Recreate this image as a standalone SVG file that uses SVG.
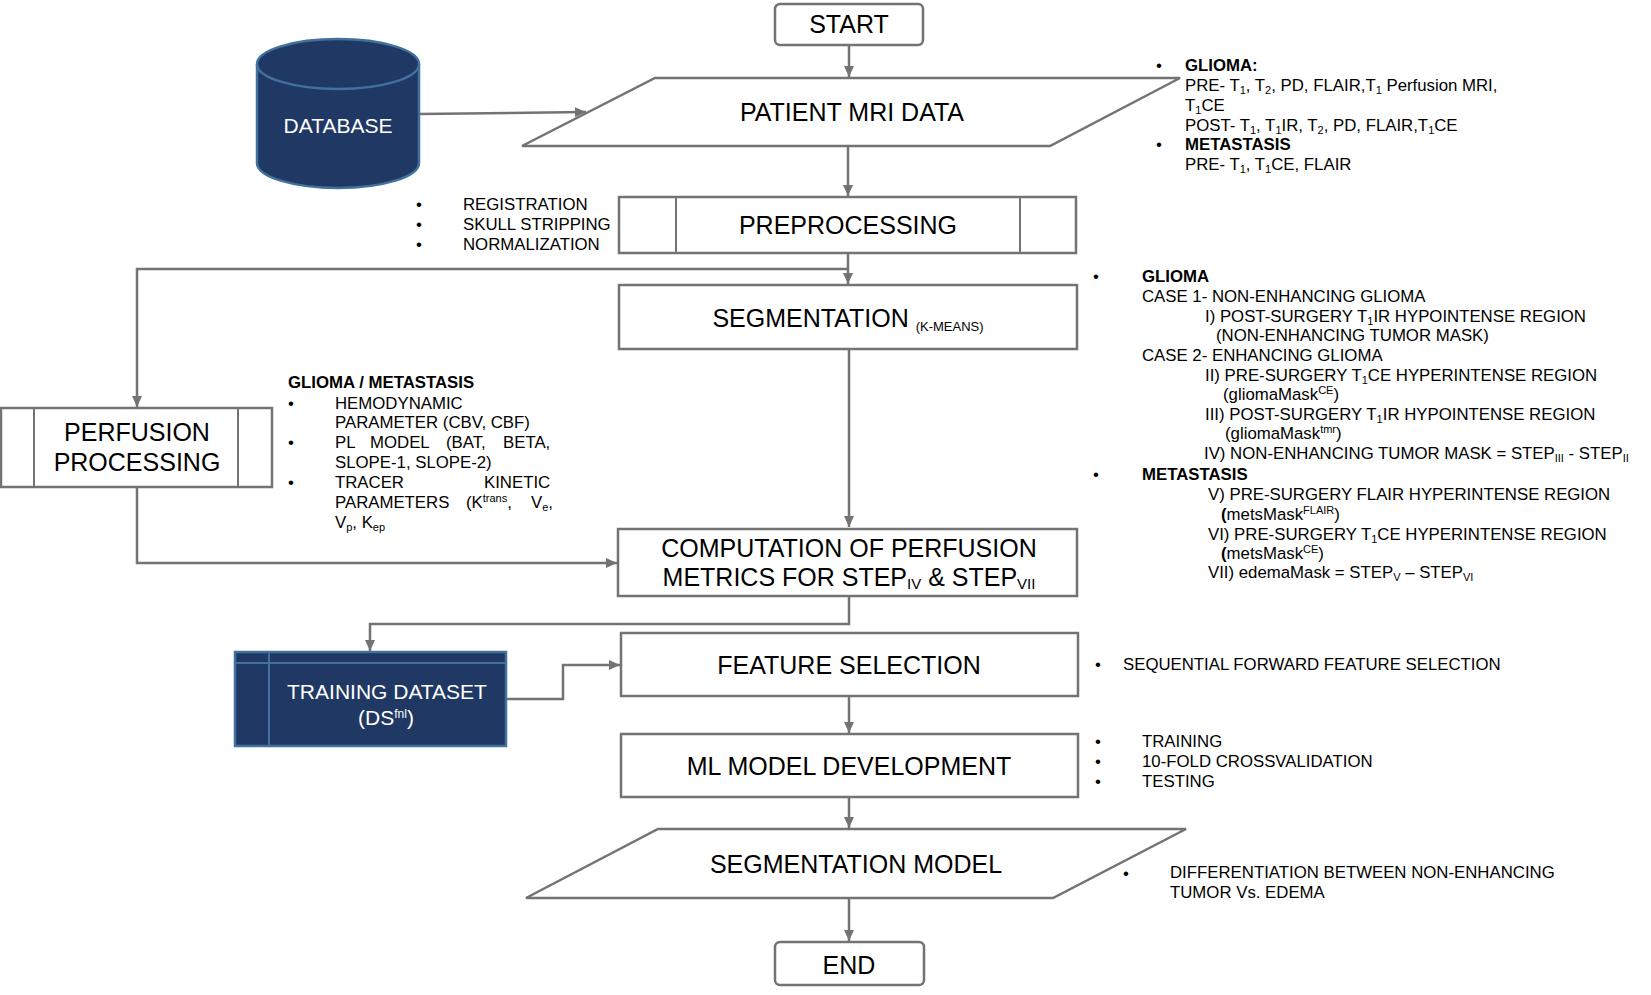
<svg xmlns="http://www.w3.org/2000/svg" width="1651" height="995" viewBox="0 0 1651 995">
<style>
.box{fill:#fff;stroke:#737373;stroke-width:2.5}
.dark{fill:#203864;stroke:#41719C;stroke-width:2.5}
.inner{fill:none;stroke:#737373;stroke-width:2}
.innerd{fill:none;stroke:#41719C;stroke-width:2}
.conn{fill:none;stroke:#737373;stroke-width:2.5}
text{font-family:"Liberation Sans",Arial,sans-serif;fill:#000}
.t{font-size:25px;text-anchor:middle}
.tw{font-size:21px;text-anchor:middle;fill:#fff}
.s{font-size:16.8px}
.b{font-weight:bold}
.sub{font-size:11px}
</style>
<defs>
<marker id="ah" markerUnits="userSpaceOnUse" markerWidth="11" markerHeight="10" refX="11" refY="5" orient="auto">
<path d="M0,0 L11,5 L0,10 z" fill="#737373"/>
</marker>
</defs>

<g id="connectors">
<line class="conn" x1="849" y1="45" x2="849" y2="77" marker-end="url(#ah)"/>
<line class="conn" x1="419" y1="114" x2="586" y2="112" marker-end="url(#ah)"/>
<line class="conn" x1="848" y1="146" x2="848" y2="196" marker-end="url(#ah)"/>
<line class="conn" x1="848" y1="253" x2="848" y2="284" marker-end="url(#ah)"/>
<polyline class="conn" points="848,269 137,269 137,407" marker-end="url(#ah)"/>
<line class="conn" x1="849" y1="349" x2="849" y2="527" marker-end="url(#ah)"/>
<polyline class="conn" points="137,487 137,563 617,563" marker-end="url(#ah)"/>
<polyline class="conn" points="849,596 849,624 370,624 370,651" marker-end="url(#ah)"/>
<polyline class="conn" points="507,699 563,699 563,665 620,665" marker-end="url(#ah)"/>
<line class="conn" x1="849" y1="696" x2="849" y2="733" marker-end="url(#ah)"/>
<line class="conn" x1="849" y1="797" x2="849" y2="828" marker-end="url(#ah)"/>
<line class="conn" x1="849" y1="898" x2="849" y2="941" marker-end="url(#ah)"/>
</g>

<g id="start">
<rect class="box" x="775" y="4" width="148" height="41" rx="5"/>
<text class="t" x="849" y="33">START</text>
</g>

<g id="database">
<path class="dark" d="M257,64 V163 A81,25 0 0 0 419,163 V64 A81,25 0 0 0 257,64 Z"/>
<path class="dark" d="M257,64 A81,25 0 0 0 419,64" fill="none"/>
<text class="tw" x="338" y="133">DATABASE</text>
</g>

<g id="patient-mri-data">
<polygon class="box" points="655,78 1180,78 1050,146 522,146"/>
<text class="t" x="852" y="121">PATIENT MRI DATA</text>
</g>

<g id="mri-notes">
<text class="s" x="1156" y="71">•</text>
<text class="s b" x="1185" y="71">GLIOMA:</text>
<text class="s" x="1185" y="91">PRE- T<tspan class="sub" dy="3">1</tspan><tspan dy="-3">, T</tspan><tspan class="sub" dy="3">2</tspan><tspan dy="-3">, PD, FLAIR,T</tspan><tspan class="sub" dy="3">1</tspan><tspan dy="-3"> Perfusion MRI,</tspan></text>
<text class="s" x="1185" y="111">T<tspan class="sub" dy="3">1</tspan><tspan dy="-3">CE</tspan></text>
<text class="s" x="1185" y="131">POST- T<tspan class="sub" dy="3">1</tspan><tspan dy="-3">, T</tspan><tspan class="sub" dy="3">1</tspan><tspan dy="-3">IR, T</tspan><tspan class="sub" dy="3">2</tspan><tspan dy="-3">, PD, FLAIR,T</tspan><tspan class="sub" dy="3">1</tspan><tspan dy="-3">CE</tspan></text>
<text class="s" x="1156" y="150">•</text>
<text class="s b" x="1185" y="150">METASTASIS</text>
<text class="s" x="1185" y="170">PRE- T<tspan class="sub" dy="3">1</tspan><tspan dy="-3">, T</tspan><tspan class="sub" dy="3">1</tspan><tspan dy="-3">CE, FLAIR</tspan></text>
</g>

<g id="preprocessing">
<rect class="box" x="619" y="197" width="457" height="56"/>
<line class="inner" x1="676" y1="197" x2="676" y2="253"/>
<line class="inner" x1="1020" y1="197" x2="1020" y2="253"/>
<text class="t" x="848" y="234">PREPROCESSING</text>
</g>

<g id="preprocessing-notes">
<text class="s" x="416" y="210">•</text>
<text class="s" x="463" y="210">REGISTRATION</text>
<text class="s" x="416" y="230">•</text>
<text class="s" x="463" y="230">SKULL STRIPPING</text>
<text class="s" x="416" y="250">•</text>
<text class="s" x="463" y="250">NORMALIZATION</text>
</g>

<g id="segmentation">
<rect class="box" x="619" y="285" width="458" height="64"/>
<text class="t" x="848" y="327">SEGMENTATION <tspan font-size="13" dy="4">(K-MEANS)</tspan></text>
</g>

<g id="segmentation-notes">
<text class="s" x="1093" y="282">•</text>
<text class="s b" x="1142" y="282">GLIOMA</text>
<text class="s" x="1142" y="302">CASE 1- NON-ENHANCING GLIOMA</text>
<text class="s" x="1205" y="322">I) POST-SURGERY T<tspan class="sub" dy="3">1</tspan><tspan dy="-3">IR HYPOINTENSE REGION</tspan></text>
<text class="s" x="1216" y="341">(NON-ENHANCING TUMOR MASK)</text>
<text class="s" x="1142" y="361">CASE 2- ENHANCING GLIOMA</text>
<text class="s" x="1205" y="381">II) PRE-SURGERY T<tspan class="sub" dy="3">1</tspan><tspan dy="-3">CE HYPERINTENSE REGION</tspan></text>
<text class="s" x="1223" y="400">(gliomaMask<tspan class="sub" dy="-6">CE</tspan><tspan dy="6">)</tspan></text>
<text class="s" x="1205" y="420">III) POST-SURGERY T<tspan class="sub" dy="3">1</tspan><tspan dy="-3">IR HYPOINTENSE REGION</tspan></text>
<text class="s" x="1225" y="439">(gliomaMask<tspan class="sub" dy="-6">tmr</tspan><tspan dy="6">)</tspan></text>
<text class="s" x="1204" y="459">IV) NON-ENHANCING TUMOR MASK = STEP<tspan class="sub" dy="3">III</tspan><tspan dy="-3"> - STEP</tspan><tspan class="sub" dy="3">II</tspan></text>
<text class="s" x="1093" y="480">•</text>
<text class="s b" x="1142" y="480">METASTASIS</text>
<text class="s" x="1208" y="500">V) PRE-SURGERY FLAIR HYPERINTENSE REGION</text>
<text class="s" x="1221" y="520"><tspan class="b">(</tspan>metsMask<tspan class="sub" dy="-6">FLAIR</tspan><tspan dy="6">)</tspan></text>
<text class="s" x="1208" y="540">VI) PRE-SURGERY T<tspan class="sub" dy="3">1</tspan><tspan dy="-3">CE HYPERINTENSE REGION</tspan></text>
<text class="s" x="1221" y="559"><tspan class="b">(</tspan>metsMask<tspan class="sub" dy="-6">CE</tspan><tspan dy="6">)</tspan></text>
<text class="s" x="1208" y="578">VII) edemaMask = STEP<tspan class="sub" dy="3">V</tspan><tspan dy="-3"> – STEP</tspan><tspan class="sub" dy="3">VI</tspan></text>
</g>

<g id="perfusion-processing">
<rect class="box" x="1" y="408" width="271" height="79"/>
<line class="inner" x1="34" y1="408" x2="34" y2="487"/>
<line class="inner" x1="238" y1="408" x2="238" y2="487"/>
<text class="t" x="137" y="441">PERFUSION</text>
<text class="t" x="137" y="471">PROCESSING</text>
</g>

<g id="perfusion-notes">
<text class="s b" x="288" y="388">GLIOMA / METASTASIS</text>
<text class="s" x="288" y="409">•</text>
<text class="s" x="335" y="409">HEMODYNAMIC</text>
<text class="s" x="335" y="428">PARAMETER (CBV, CBF)</text>
<text class="s" x="288" y="448">•</text>
<text class="s" y="448"><tspan x="335">PL </tspan><tspan x="370">MODEL </tspan><tspan x="446">(BAT, </tspan><tspan x="503">BETA,</tspan></text>
<text class="s" x="335" y="468">SLOPE-1, SLOPE-2)</text>
<text class="s" x="288" y="488">•</text>
<text class="s" y="488"><tspan x="335">TRACER </tspan><tspan x="484">KINETIC</tspan></text>
<text class="s" y="508"><tspan x="335">PARAMETERS </tspan><tspan x="466">(K</tspan><tspan class="sub" dy="-6">trans</tspan><tspan dy="6">, </tspan><tspan x="531">V</tspan><tspan class="sub" dy="3">e</tspan><tspan dy="-3">,</tspan></text>
<text class="s" x="335" y="528">V<tspan class="sub" dy="3">p</tspan><tspan dy="-3">, K</tspan><tspan class="sub" dy="3">ep</tspan></text>
</g>

<g id="computation">
<rect class="box" x="618" y="529" width="459" height="67"/>
<text class="t" x="849" y="557">COMPUTATION OF PERFUSION</text>
<text class="t" x="849" y="586">METRICS FOR STEP<tspan font-size="15" dy="3">IV</tspan><tspan dy="-3"> &amp; STEP</tspan><tspan font-size="15" dy="3">VII</tspan></text>
</g>

<g id="training-dataset">
<rect class="dark" x="235" y="652" width="271" height="94"/>
<line class="innerd" x1="269" y1="652" x2="269" y2="746"/>
<line class="innerd" x1="235" y1="663" x2="506" y2="663"/>
<text class="tw" x="387" y="699">TRAINING DATASET</text>
<text class="tw" x="386" y="725" font-size="17">(DS<tspan font-size="12" dy="-7">fnl</tspan><tspan dy="7">)</tspan></text>
</g>

<g id="feature-selection">
<rect class="box" x="621" y="633" width="457" height="63"/>
<text class="t" x="849" y="674">FEATURE SELECTION</text>
</g>

<g id="feature-notes">
<text class="s" x="1095" y="670">•</text>
<text class="s" x="1123" y="670">SEQUENTIAL FORWARD FEATURE SELECTION</text>
</g>

<g id="ml-model">
<rect class="box" x="621" y="734" width="457" height="63"/>
<text class="t" x="849" y="775">ML MODEL DEVELOPMENT</text>
</g>

<g id="ml-notes">
<text class="s" x="1095" y="747">•</text>
<text class="s" x="1142" y="747">TRAINING</text>
<text class="s" x="1095" y="767">•</text>
<text class="s" x="1142" y="767">10-FOLD CROSSVALIDATION</text>
<text class="s" x="1095" y="787">•</text>
<text class="s" x="1142" y="787">TESTING</text>
</g>

<g id="segmentation-model">
<polygon class="box" points="658,829 1186,829 1053,898 526,898"/>
<text class="t" x="856" y="873">SEGMENTATION MODEL</text>
</g>

<g id="segmentation-model-notes">
<text class="s" x="1123" y="879">•</text>
<text class="s" x="1170" y="878">DIFFERENTIATION BETWEEN NON-ENHANCING</text>
<text class="s" x="1170" y="898">TUMOR Vs. EDEMA</text>
</g>

<g id="end">
<rect class="box" x="775" y="942" width="149" height="43" rx="5"/>
<text class="t" x="849" y="974">END</text>
</g>
</svg>
